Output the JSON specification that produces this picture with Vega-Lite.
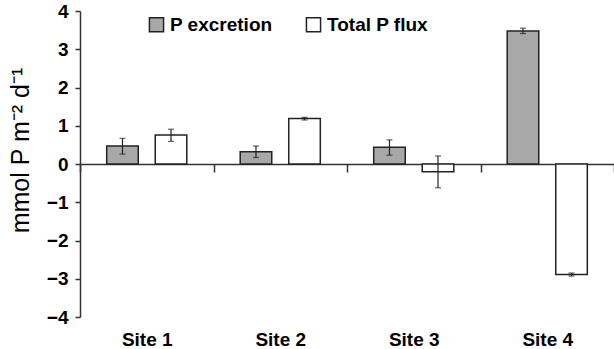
{
  "$schema": "https://vega.github.io/schema/vega-lite/v6.json",
  "width": 534,
  "height": 306,
  "autosize": "none",
  "padding": {"left": 80, "top": 11, "right": 0, "bottom": 32},
  "background": "white",
  "config": {"view": {"stroke": null}, "font": "Liberation Sans"},
  "data": {"values": [
    {"site": "Site 1", "series": "P excretion", "value": 0.47, "lo": 0.26, "hi": 0.67},
    {"site": "Site 1", "series": "Total P flux", "value": 0.76, "lo": 0.59, "hi": 0.91},
    {"site": "Site 2", "series": "P excretion", "value": 0.32, "lo": 0.17, "hi": 0.47},
    {"site": "Site 2", "series": "Total P flux", "value": 1.19, "lo": 1.15, "hi": 1.22},
    {"site": "Site 3", "series": "P excretion", "value": 0.44, "lo": 0.23, "hi": 0.63},
    {"site": "Site 3", "series": "Total P flux", "value": -0.2, "lo": -0.62, "hi": 0.21},
    {"site": "Site 4", "series": "P excretion", "value": 3.48, "lo": 3.41, "hi": 3.55},
    {"site": "Site 4", "series": "Total P flux", "value": -2.89, "lo": -2.93, "hi": -2.85}
  ]},
  "encoding": {
    "x": {"field": "site", "type": "nominal", "scale": {"paddingInner": 0, "paddingOuter": 0},
      "axis": {"title": null, "orient": "bottom", "offset": -153, "labelAngle": 0,
        "domainColor": "#333", "domainWidth": 1.5, "tickColor": "#333", "tickWidth": 1.5,
        "tickSize": 8, "tickBand": "extent", "labelPadding": 158,
        "labelFont": "Liberation Sans", "labelFontWeight": "bold", "labelFontSize": 19, "labelColor": "black"}},
    "xOffset": {"field": "series", "type": "nominal", "scale": {"paddingInner": 0.35, "paddingOuter": 0.55}}
  },
  "layer": [
    {
      "mark": {"type": "bar", "stroke": "#222", "strokeWidth": 1.5},
      "encoding": {
        "y": {"field": "value", "type": "quantitative", "scale": {"domain": [-4, 4], "nice": false},
          "axis": {"title": "mmol P m⁻² d⁻¹", "values": [-4, -3, -2, -1, 0, 1, 2, 3, 4], "grid": false,
            "labelOverlap": false, "labelFlush": false,
            "domainColor": "#333", "domainWidth": 1.5, "tickColor": "#333", "tickWidth": 1.5, "tickSize": 5,
            "labelFont": "Liberation Sans", "labelFontWeight": "bold", "labelFontSize": 19, "labelColor": "black",
            "labelPadding": 7, "titleFont": "Liberation Sans", "titleFontWeight": "normal", "titleFontSize": 25,
            "titleColor": "black", "titlePadding": 13, "titleY": 139}},
        "fill": {"field": "series", "type": "nominal",
          "scale": {"domain": ["P excretion", "Total P flux"], "range": ["#a8a8a8", "#ffffff"]},
          "legend": {"title": null, "orient": "none", "legendX": 67, "legendY": 4, "direction": "horizontal",
            "symbolType": "square", "symbolSize": 200, "symbolStrokeColor": "#222", "symbolStrokeWidth": 1.5,
            "labelFont": "Liberation Sans", "labelFontWeight": "bold", "labelFontSize": 19, "labelColor": "black",
            "labelOffset": 4, "columnPadding": 30}}
      }
    },
    {
      "mark": {"type": "rule", "stroke": "#222", "strokeWidth": 1.2},
      "encoding": {"y": {"field": "lo", "type": "quantitative",
          "axis": {"title": "mmol P m⁻² d⁻¹", "values": [-4, -3, -2, -1, 0, 1, 2, 3, 4], "grid": false,
            "labelOverlap": false, "labelFlush": false,
            "domainColor": "#333", "domainWidth": 1.5, "tickColor": "#333", "tickWidth": 1.5, "tickSize": 5,
            "labelFont": "Liberation Sans", "labelFontWeight": "bold", "labelFontSize": 19, "labelColor": "black",
            "labelPadding": 7, "titleFont": "Liberation Sans", "titleFontWeight": "normal", "titleFontSize": 25,
            "titleColor": "black", "titlePadding": 13, "titleY": 139}},
        "y2": {"field": "hi"}}
    },
    {
      "mark": {"type": "tick", "color": "#222", "size": 6, "thickness": 1.2, "orient": "horizontal"},
      "encoding": {"y": {"field": "lo", "type": "quantitative",
          "axis": {"title": "mmol P m⁻² d⁻¹", "values": [-4, -3, -2, -1, 0, 1, 2, 3, 4], "grid": false,
            "labelOverlap": false, "labelFlush": false,
            "domainColor": "#333", "domainWidth": 1.5, "tickColor": "#333", "tickWidth": 1.5, "tickSize": 5,
            "labelFont": "Liberation Sans", "labelFontWeight": "bold", "labelFontSize": 19, "labelColor": "black",
            "labelPadding": 7, "titleFont": "Liberation Sans", "titleFontWeight": "normal", "titleFontSize": 25,
            "titleColor": "black", "titlePadding": 13, "titleY": 139}}}
    },
    {
      "mark": {"type": "tick", "color": "#222", "size": 6, "thickness": 1.2, "orient": "horizontal"},
      "encoding": {"y": {"field": "hi", "type": "quantitative",
          "axis": {"title": "mmol P m⁻² d⁻¹", "values": [-4, -3, -2, -1, 0, 1, 2, 3, 4], "grid": false,
            "labelOverlap": false, "labelFlush": false,
            "domainColor": "#333", "domainWidth": 1.5, "tickColor": "#333", "tickWidth": 1.5, "tickSize": 5,
            "labelFont": "Liberation Sans", "labelFontWeight": "bold", "labelFontSize": 19, "labelColor": "black",
            "labelPadding": 7, "titleFont": "Liberation Sans", "titleFontWeight": "normal", "titleFontSize": 25,
            "titleColor": "black", "titlePadding": 13, "titleY": 139}}}
    }
  ]
}
